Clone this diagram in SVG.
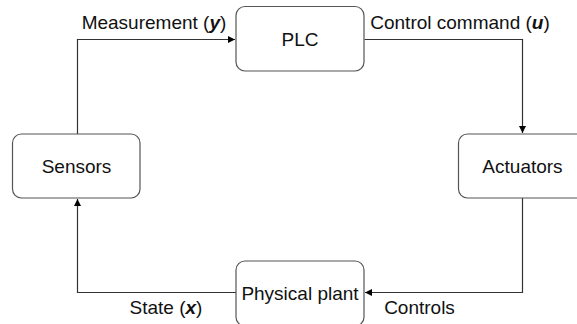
<svg xmlns="http://www.w3.org/2000/svg" width="577" height="324" viewBox="0 0 577 324">
<defs>
<marker id="arr" markerWidth="8" markerHeight="8" refX="7" refY="4" orient="auto" markerUnits="userSpaceOnUse">
<path d="M0,0.5 L7,4 L0,7.5 Z" fill="#000"/>
</marker>
<style>
.box{fill:#fff;stroke:#555;stroke-width:1.2}
.t{font-family:"Liberation Sans",Arial,sans-serif;font-size:19px;fill:#111;text-anchor:middle}
.c{fill:none;stroke:#333;stroke-width:1.2}
</style>
</defs>
<rect width="577" height="324" fill="#fff"/>
<g id="connectors">
<path class="c" d="M77.5,134 V39.5 H235" marker-end="url(#arr)"/>
<path class="c" d="M364.5,39.5 H522.5 V133" marker-end="url(#arr)"/>
<path class="c" d="M522.5,198 V292.5 H365" marker-end="url(#arr)"/>
<path class="c" d="M236,292.5 H77.5 V199" marker-end="url(#arr)"/>
<text class="t" x="154" y="29">Measurement (<tspan font-weight="bold" font-style="italic">y</tspan>)</text>
<text class="t" x="460" y="28.5">Control command (<tspan font-weight="bold" font-style="italic">u</tspan>)</text>
<text class="t" x="166" y="314">State (<tspan font-weight="bold" font-style="italic">x</tspan>)</text>
<text class="t" x="419.5" y="313.5">Controls</text>
</g>
<g id="plc">
<rect class="box" x="236" y="6.5" width="128" height="64.5" rx="9"/>
<text class="t" x="300" y="46">PLC</text>
</g>
<g id="sensors">
<rect class="box" x="12.5" y="134" width="127.5" height="64" rx="9"/>
<text class="t" x="76.5" y="173">Sensors</text>
</g>
<g id="actuators">
<rect class="box" x="458.5" y="134" width="128" height="64" rx="9"/>
<text class="t" x="522.5" y="173">Actuators</text>
</g>
<g id="plant">
<rect class="box" x="236" y="261" width="128" height="65" rx="9"/>
<text class="t" x="300" y="300">Physical plant</text>
</g>
</svg>
